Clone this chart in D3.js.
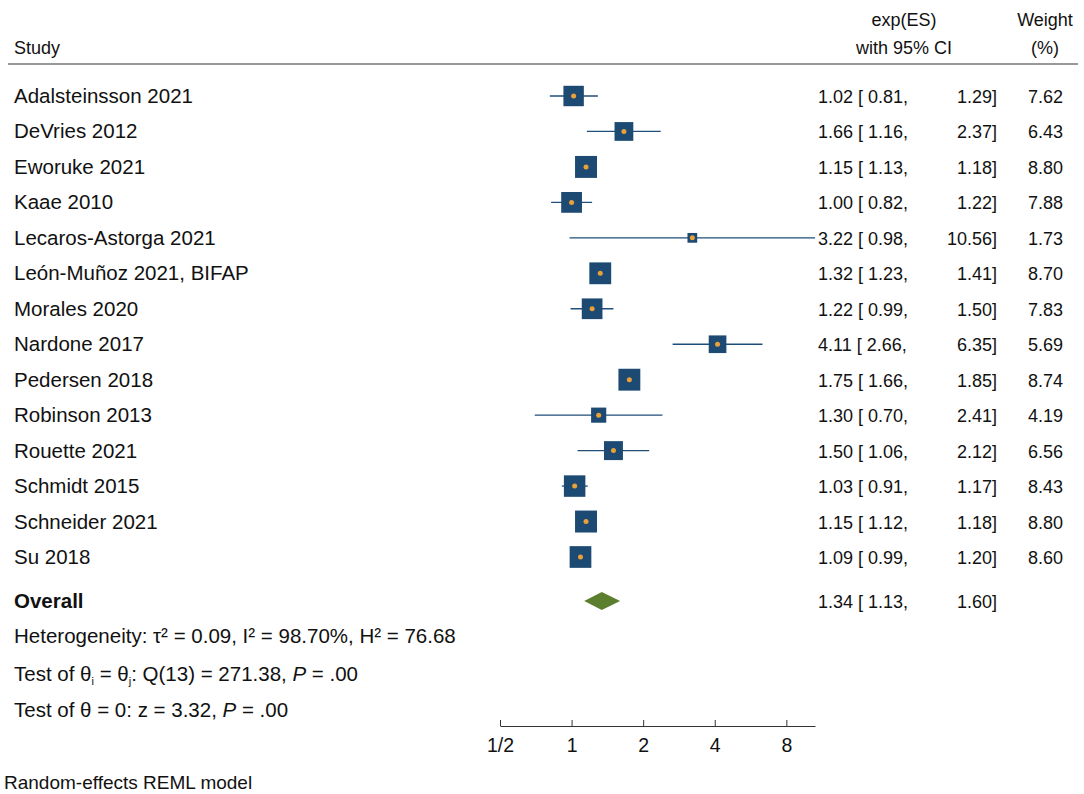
<!DOCTYPE html><html><head><meta charset="utf-8"><script src="https://cdn.jsdelivr.net/npm/d3@7"></script>
<style>body{margin:0;background:#fff}text{font-family:"Liberation Sans",Arial,sans-serif;font-size:18px;fill:#111}.lab{font-size:20.5px}</style></head><body>
<svg id="c" width="1084" height="794"></svg>
<script>
const studies=["Adalsteinsson 2021","DeVries 2012","Eworuke 2021","Kaae 2010","Lecaros-Astorga 2021","León-Muñoz 2021, BIFAP","Morales 2020","Nardone 2017","Pedersen 2018","Robinson 2013","Rouette 2021","Schmidt 2015","Schneider 2021","Su 2018"];
const es=[1.02,1.66,1.15,1.00,3.22,1.32,1.22,4.11,1.75,1.30,1.50,1.03,1.15,1.09];
const lo=[0.81,1.16,1.13,0.82,0.98,1.23,0.99,2.66,1.66,0.70,1.06,0.91,1.12,0.99];
const hi=[1.29,2.37,1.18,1.22,10.56,1.41,1.50,6.35,1.85,2.41,2.12,1.17,1.18,1.20];
const weight=[7.62,6.43,8.80,7.88,1.73,8.70,7.83,5.69,8.74,4.19,6.56,8.43,8.80,8.60];
const overall={es:1.34,lo:1.13,hi:1.60};
const ticks=[0.5,1,2,4,8];
const tickLabels=["1/2","1","2","4","8"];
const svg=d3.select("#c");
const x=d3.scaleLog().base(2).domain([0.5,10.56]).range([500,815]);
const y=d3.scaleLinear().domain([0,13]).range([96,557]);
const f=v=>v.toFixed(2);
svg.append("text").attr("x",14).attr("y",54).text("Study");
svg.append("text").attr("x",904).attr("y",26).attr("text-anchor","middle").text("exp(ES)");
svg.append("text").attr("x",904).attr("y",54).attr("text-anchor","middle").text("with 95% CI");
svg.append("text").attr("x",1045).attr("y",26).attr("text-anchor","middle").text("Weight");
svg.append("text").attr("x",1045).attr("y",54).attr("text-anchor","middle").text("(%)");
svg.append("line").attr("x1",8).attr("x2",1078).attr("y1",64).attr("y2",64).attr("stroke","#333").attr("stroke-width",1);
const g=svg.append("g");
studies.forEach((s,i)=>{
  const yy=y(i);
  g.append("text").attr("class","lab").attr("x",14).attr("y",yy+7).text(s);
  g.append("line").attr("x1",x(lo[i])).attr("x2",x(hi[i])).attr("y1",yy).attr("y2",yy).attr("stroke","#1f4e79").attr("stroke-width",1.3);
  const side=7.4*Math.sqrt(weight[i]);
  g.append("rect").attr("x",x(es[i])-side/2).attr("y",yy-side/2).attr("width",side).attr("height",side).attr("fill","#1d4a73");
  g.append("circle").attr("cx",x(es[i])).attr("cy",yy).attr("r",2.5).attr("fill","#e8a13a");
  g.append("text").attr("x",818).attr("y",yy+7).text(f(es[i])+" [ "+f(lo[i])+",");
  g.append("text").attr("x",997).attr("y",yy+7).attr("text-anchor","end").text(f(hi[i])+"]");
  g.append("text").attr("x",1063).attr("y",yy+7).attr("text-anchor","end").text(f(weight[i]));
});
const oy=601;
svg.append("text").attr("class","lab").attr("x",14).attr("y",oy+7).style("font-weight","bold").text("Overall");
svg.append("path").attr("d",`M${x(overall.lo)},${oy}L${x(overall.es)},${oy-9}L${x(overall.hi)},${oy}L${x(overall.es)},${oy+9}Z`).attr("fill","#5b7f2e");
svg.append("text").attr("x",818).attr("y",oy+7).text(f(overall.es)+" [ "+f(overall.lo)+",");
svg.append("text").attr("x",997).attr("y",oy+7).attr("text-anchor","end").text(f(overall.hi)+"]");
svg.append("text").attr("class","lab").attr("x",14).attr("y",643).text("Heterogeneity: τ² = 0.09, I² = 98.70%, H² = 76.68");
const t2=svg.append("text").attr("class","lab").attr("x",14).attr("y",681);
t2.append("tspan").text("Test of θ");t2.append("tspan").style("font-size","11px").attr("dy",4).text("i");
t2.append("tspan").attr("dy",-4).text(" = θ");t2.append("tspan").style("font-size","11px").attr("dy",4).text("j");
t2.append("tspan").attr("dy",-4).text(": Q(13) = 271.38, ");t2.append("tspan").attr("font-style","italic").text("P");t2.append("tspan").text(" = .00");
const t3=svg.append("text").attr("class","lab").attr("x",14).attr("y",717);
t3.append("tspan").text("Test of θ = 0: z = 3.32, ");t3.append("tspan").attr("font-style","italic").text("P");t3.append("tspan").text(" = .00");
const ax=svg.append("g").attr("transform","translate(0,726)").call(d3.axisBottom(x).tickValues(ticks).tickFormat((d,i)=>tickLabels[i]).tickSize(-6).tickSizeOuter(0));
ax.select(".domain").attr("stroke","#333");
ax.selectAll(".tick line").attr("stroke","#333").attr("y2",-6);
ax.selectAll("text").style("font-size","19.5px").style("font-family","Liberation Sans, Arial, sans-serif").attr("y",9).attr("dy","0.85em").attr("fill","#111");
svg.append("text").attr("x",4).attr("y",789).style("font-size","19px").text("Random-effects REML model");
</script></body></html>
